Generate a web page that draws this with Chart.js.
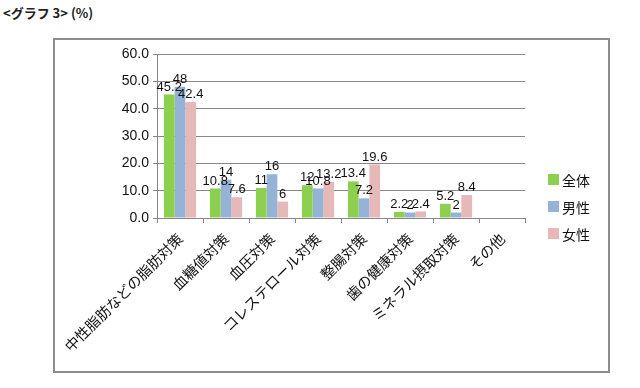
<!DOCTYPE html>
<html><head><meta charset="utf-8">
<script src="https://cdn.jsdelivr.net/npm/chart.js@4/dist/chart.umd.min.js"></script>
<style>
html,body{margin:0;padding:0;background:#fff;}
#wrap{position:relative;width:640px;height:388px;}
#title{position:absolute;left:3px;top:3px;font:bold 13px "Noto Sans CJK JP","Liberation Sans",sans-serif;color:#222;}
#frame{position:absolute;left:53px;top:38px;width:553px;height:331px;border:2px solid #8c8c8c;}
#legend{position:absolute;left:548px;top:166px;font:14px "Noto Sans CJK JP",sans-serif;color:#111;}
#legend div{height:27px;display:flex;align-items:center;}
#legend span.sw{display:inline-block;width:11px;height:11px;margin-right:3px;}
canvas{position:absolute;left:0;top:0;}
</style></head>
<body><div id="wrap">
<div id="frame"></div>
<div id="title">&lt;グラフ 3&gt; (%)</div>
<canvas id="c" width="640" height="388"></canvas>
<div id="legend"></div>
</div>
<script>
const categories = ["中性脂肪などの脂肪対策","血糖値対策","血圧対策","コレステロール対策","整腸対策","歯の健康対策","ミネラル摂取対策","その他"];
const seriesNames = ["全体","男性","女性"];
const allValues = [45.2, 10.8, 11, 12, 13.4, 2.2, 5.2, null];
const maleValues = [48, 14, 16, 10.8, 7.2, 2, 2, null];
const femaleValues = [42.4, 7.6, 6, 13.2, 19.6, 2.4, 8.4, null];
const yTicks = [0, 10, 20, 30, 40, 50, 60];
const colors = ["#8dcf4f", "#95b3d7", "#e6b9b8"];

const lg = document.getElementById('legend');
seriesNames.forEach((n,i)=>{
  const d=document.createElement('div');
  d.innerHTML='<span class="sw" style="background:'+colors[i]+'"></span>'+n;
  lg.appendChild(d);
});

const labelPlugin = {
  id:'vlabels',
  afterDatasetsDraw(chart){
    const ctx=chart.ctx;
    ctx.save();
    ctx.font='13px "Liberation Sans", Arial, sans-serif';
    ctx.fillStyle='#111';
    ctx.textAlign='center';
    ctx.textBaseline='bottom';
    chart.data.datasets.forEach((ds,di)=>{
      chart.getDatasetMeta(di).data.forEach((el,i)=>{
        const v=ds.data[i];
        if(v===null||v===undefined) return;
        ctx.fillText(String(v), el.x, el.y-1);
      });
    });
    ctx.restore();
  }
};

new Chart(document.getElementById('c'),{
  type:'bar',
  data:{
    labels:categories,
    datasets:[
      {label:seriesNames[0],data:allValues,backgroundColor:colors[0]},
      {label:seriesNames[1],data:maleValues,backgroundColor:colors[1]},
      {label:seriesNames[2],data:femaleValues,backgroundColor:colors[2]}
    ]
  },
  options:{
    responsive:false,animation:false,
    layout:{padding:{left:0,right:115,top:54,bottom:0}},
    datasets:{bar:{categoryPercentage:0.7,barPercentage:1.0}},
    plugins:{legend:{display:false},tooltip:{enabled:false}},
    scales:{
      x:{
        grid:{display:true,drawOnChartArea:false,drawTicks:true,tickLength:5,color:'#888',offset:true},
        border:{display:true,color:'#888'},
        ticks:{maxRotation:45,minRotation:45,autoSkip:false,color:'#111',padding:7,
          font:{family:'"Noto Sans CJK JP", sans-serif',size:14.5}},
        afterFit(s){s.height=170;}
      },
      y:{
        min:0,max:60,
        afterBuildTicks(s){s.ticks=yTicks.map(v=>({value:v}));},
        grid:{color:'#888',tickLength:4},
        border:{display:true,color:'#888'},
        ticks:{color:'#111',padding:4,callback:v=>v.toFixed(1),
          font:{family:'"Liberation Sans", Arial, sans-serif',size:14}},
        afterFit(s){s.width=157;}
      }
    }
  },
  plugins:[labelPlugin]
});
</script>
</body></html>
